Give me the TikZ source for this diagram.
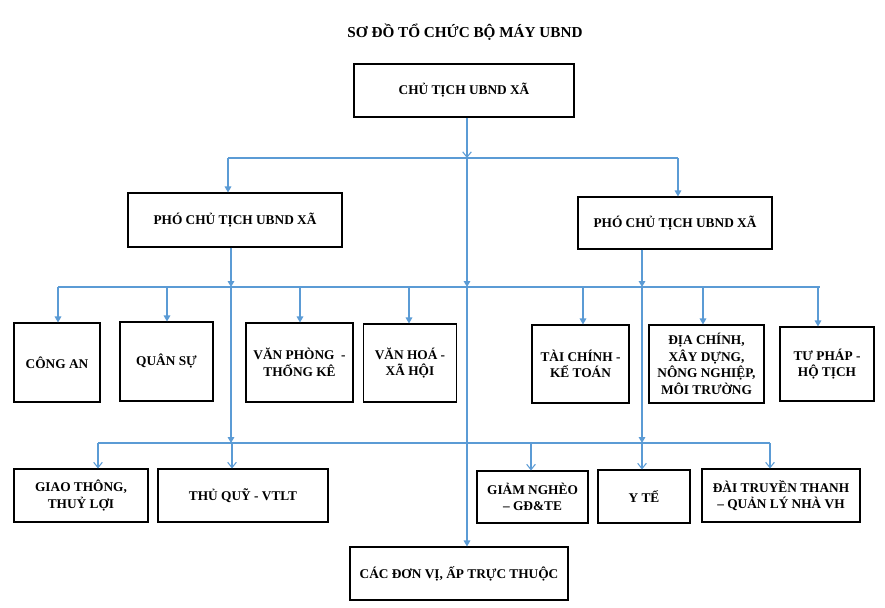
\documentclass[tikz,border=0pt]{standalone}
\usepackage{fontspec}
\setmainfont{Liberation Serif}
\usepackage{xcolor}
\usepackage{tikz}
\usetikzlibrary{arrows.meta,positioning,calc}
\definecolor{Ink}{HTML}{000000}
\definecolor{Wire}{HTML}{5B9BD5}
\tikzset{
  unit/.style={draw=Ink, line width=0.8pt, fill=white, align=center, inner sep=0pt,
    font=\fontsize{10pt}{12.5pt}\selectfont\bfseries},
  wire/.style={draw=Wire, line width=0.8pt},
  feed/.style={wire, -{Triangle[length=4.5pt,width=5pt]}},
  feedopen/.style={wire, -{Straight Barb[length=4pt,width=6.5pt]}}
}

\begin{document}
\begin{tikzpicture}[x=0.75pt, y=-0.75pt]
  \useasboundingbox (0,0) rectangle (885,607);
  \node[font=\fontsize{11.4pt}{13pt}\selectfont\bfseries] (title) at (465,32) {SƠ ĐỒ TỔ CHỨC BỘ MÁY UBND};

  % leadership
  \node[unit, minimum width=165pt, minimum height=39.75pt] (chutich) at (464,90.5) {CHỦ TỊCH UBND XÃ};
  \node[unit, minimum width=160.5pt, minimum height=40.5pt] (pho1) at (235,220) {PHÓ CHỦ TỊCH UBND XÃ};
  \node[unit, minimum width=145.5pt, minimum height=39pt] (pho2) at (675,223) {PHÓ CHỦ TỊCH UBND XÃ};

  % second row
  \node[unit, minimum width=64.5pt, minimum height=59.25pt] (congan) at (57,362.5) {CÔNG AN};
  \node[unit, minimum width=69.75pt, minimum height=59.25pt] (quansu) at (166.5,361.5) {QUÂN SỰ};
  \node[unit, minimum width=80.25pt, minimum height=59.25pt] (vanphong) at (299.5,362.5) {VĂN PHÒNG\ \ -\\THỐNG KÊ};
  \node[unit, minimum width=69.75pt, minimum height=58.5pt] (vanhoa) at (410,363) {VĂN HOÁ -\\XÃ HỘI};
  \node[unit, minimum width=72.75pt, minimum height=58.5pt] (taichinh) at (580.5,364) {TÀI CHÍNH -\\KẾ TOÁN};
  \node[unit, minimum width=86.25pt, minimum height=58.5pt] (diachinh) at (706.5,364) {ĐỊA CHÍNH,\\XÂY DỰNG,\\NÔNG NGHIỆP,\\MÔI TRƯỜNG};
  \node[unit, minimum width=70.5pt, minimum height=55.5pt] (tuphap) at (827,364) {TƯ PHÁP -\\HỘ TỊCH};

  % third row
  \node[unit, minimum width=100.5pt, minimum height=39.75pt] (giaothong) at (81,495.5) {GIAO THÔNG,\\THUỶ LỢI};
  \node[unit, minimum width=127.5pt, minimum height=39.75pt] (thuquy) at (243,495.5) {THỦ QUỸ - VTLT};
  \node[unit, minimum width=83.25pt, minimum height=39pt] (giamngheo) at (532.5,497) {GIẢM NGHÈO\\– GĐ\&TE};
  \node[unit, minimum width=69pt, minimum height=39.75pt] (yte) at (644,496.5) {Y TẾ};
  \node[unit, minimum width=118.5pt, minimum height=39.75pt] (daitruyen) at (781,495.5) {ĐÀI TRUYỀN THANH\\– QUẢN LÝ NHÀ VH};
  \node[unit, minimum width=163.5pt, minimum height=39.75pt] (cacdonvi) at (459,573.5) {CÁC ĐƠN VỊ, ẤP TRỰC THUỘC};

  % bus lines
  \coordinate (spine) at (467,0);
  \coordinate (leg1) at (231,0);
  \coordinate (leg2) at (642,0);
  \coordinate (top1) at (228,158);
  \coordinate (top2) at (678,158);
  \coordinate (mid1) at (58,287);
  \coordinate (mid2) at (820,287);
  \coordinate (low1) at (98,443);
  \coordinate (low2) at (770,443);

  \draw[wire] (top1) -- (top2);
  \draw[wire] (mid1) -- (mid2);
  \draw[wire] (low1) -- (low2);

  \draw[feedopen] (chutich.south -| spine) -- (top1 -| spine);
  \draw[feed] (top1 -| spine) -- (mid1 -| spine);
  \draw[feed] (mid1 -| spine) -- (cacdonvi.north -| spine);

  \draw[feed] (top1) -- (top1 |- pho1.north);
  \draw[feed] (top2) -- (top2 |- pho2.north);
  \draw[feed] (pho1.south -| leg1) -- (mid1 -| leg1);
  \draw[feed] (mid1 -| leg1) -- (low1 -| leg1);
  \draw[feed] (pho2.south -| leg2) -- (mid1 -| leg2);
  \draw[feed] (mid1 -| leg2) -- (low1 -| leg2);

  \foreach \x/\n in {58/congan, 167/quansu, 300/vanphong, 409/vanhoa, 583/taichinh, 703/diachinh, 818/tuphap} {
    \coordinate (d) at (\x,287);
    \draw[feed] (d) -- (d |- \n.north);
  }
  \foreach \x/\n in {98/giaothong, 232/thuquy, 531/giamngheo, 642/yte, 770/daitruyen} {
    \coordinate (d) at (\x,443);
    \draw[feedopen] (d) -- (d |- \n.north);
  }
\end{tikzpicture}
\end{document}
